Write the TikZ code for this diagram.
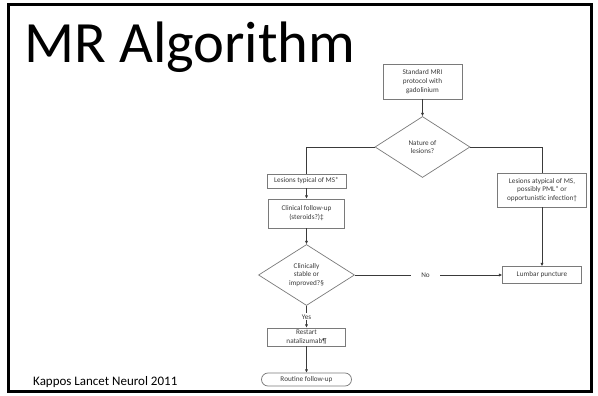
\documentclass[tikz,border=0pt]{standalone}
\usepackage{fontspec}
\setmainfont{Carlito}
\usetikzlibrary{shapes.geometric,arrows.meta}
\definecolor{boxline}{HTML}{7A7A7A}
\definecolor{conn}{HTML}{3A3A3A}
\definecolor{ftext}{HTML}{3C3C3C}
\tikzset{
  flowbox/.style={draw=boxline, line width=0.7pt, fill=white, inner sep=0pt, align=center,
    font=\fontsize{7.2}{8.8}\selectfont, text=ftext},
  flowdia/.style={flowbox, shape=diamond, aspect=1.5},
  flowend/.style={flowbox, rounded corners=6.5pt},
  conline/.style={draw=conn, line width=0.7pt},
  conarrow/.style={conline, -{Latex[length=3.2pt,width=3.2pt]}},
  edgelabel/.style={fill=white, inner sep=1.2pt, font=\fontsize{7.2}{8.8}\selectfont, text=ftext}
}
\begin{document}
\begin{tikzpicture}[x=1pt,y=-1pt]
\useasboundingbox (0,0) rectangle (598,396);
\fill[white] (0,0) rectangle (598,396);
\draw[line width=3pt, black] (8.5,4.5) rectangle (591.5,391.5);

\node[anchor=base west, inner sep=0pt, font=\fontsize{58.5}{60}\selectfont] (title) at (24,63) {MR Algorithm};
\node[anchor=base west, inner sep=0pt, font=\fontsize{13}{15}\selectfont] (cite) at (33,385) {Kappos Lancet Neurol 2011};

\node[flowbox, minimum width=79pt, minimum height=35pt] (mri) at (422.5,81.5) {Standard MRI\\protocol with\\gadolinium};
\node[flowdia, minimum width=95pt, minimum height=61pt] (nature) at (422.5,147) {Nature of\\lesions?};
\node[flowbox, minimum width=79pt, minimum height=14pt] (typ) at (306.5,181) {Lesions typical of MS*};
\node[flowbox, minimum width=76pt, minimum height=29pt] (clin) at (306.5,213.5) {Clinical follow-up\\(steroids?)‡};
\node[flowdia, minimum width=96pt, minimum height=61pt] (stable) at (306.5,275) {Clinically\\stable or\\improved?§};
\node[flowbox, minimum width=78pt, minimum height=18pt] (restart) at (306.5,337) {Restart\\natalizumab¶};
\node[flowend, minimum width=90pt, minimum height=13pt] (routine) at (306.5,379.5) {Routine follow-up};
\node[flowbox, minimum width=89pt, minimum height=34pt] (atyp) at (542,190) {Lesions atypical of MS,\\possibly PML* or\\opportunistic infection†};
\node[flowbox, minimum width=79pt, minimum height=17pt] (lumbar) at (542,275) {Lumbar puncture};

\draw[conarrow] (mri.south) -- (nature.north);
\draw[conline] (nature.west) -| (typ.north);
\draw[conline] (nature.east) -| (atyp.north);
\draw[conarrow] (typ.south) -- (clin.north);
\draw[conarrow] (clin.south) -- (stable.north);
\draw[conarrow] (stable.south) -- node[edgelabel, pos=0.5] {Yes} (restart.north);
\draw[conarrow] (restart.south) -- (routine.north);
\draw[conarrow] (stable.east) -- node[edgelabel, pos=0.48, inner xsep=10pt] {No} (lumbar.west);
\draw[conarrow] (atyp.south) -- (lumbar.north);
\end{tikzpicture}
\end{document}
